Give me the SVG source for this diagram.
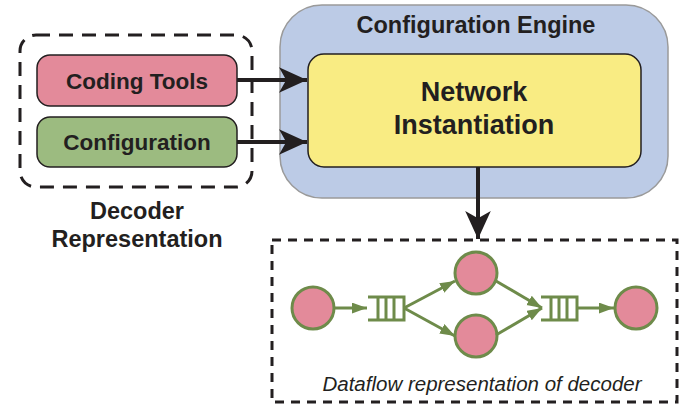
<svg xmlns="http://www.w3.org/2000/svg" width="695" height="405" viewBox="0 0 695 405">
<style>
.t{font-family:"Liberation Sans",Arial,sans-serif;font-weight:bold;fill:#231f20;text-anchor:middle}
.c{fill:#e38a9a;stroke:#6e8b4a;stroke-width:3}
.g{stroke:#6e8b4a;stroke-width:3;fill:none}
.k{stroke:#231f20;stroke-width:4;fill:none}
</style>
<defs>
<marker id="ab" markerWidth="8" markerHeight="8" refX="7" refY="4" orient="auto" markerUnits="strokeWidth"><path d="M0,0.8 L7,4 L0,7.2 L1.8,4 Z" fill="#231f20"/></marker>
<marker id="ag" markerWidth="5" markerHeight="4" refX="5" refY="1.8" orient="auto" markerUnits="strokeWidth"><path d="M0,0 L5,1.8 L0,3.6 Z" fill="#6e8b4a"/></marker>
</defs>
<g id="decoder-representation">
<rect x="20" y="35" width="232" height="152" rx="16" fill="none" stroke="#231f20" stroke-width="3" stroke-dasharray="14,9"/>
<text class="t" x="137" y="219" font-size="23.5">Decoder</text>
<text class="t" x="137" y="247" font-size="23.5">Representation</text>
</g>
<g id="coding-tools">
<rect x="37" y="55" width="200" height="51" rx="13" fill="#e38a9a" stroke="#231f20" stroke-width="1.5"/>
<text class="t" x="137" y="89" font-size="22.5">Coding Tools</text>
</g>
<g id="configuration">
<rect x="37" y="117" width="200" height="50" rx="13" fill="#9cbb80" stroke="#231f20" stroke-width="1.5"/>
<text class="t" x="137" y="150" font-size="22.5">Configuration</text>
</g>
<g id="configuration-engine">
<rect x="280" y="5" width="388" height="193" rx="42" fill="#bccbe6" stroke="#9a9a9a" stroke-width="1.5"/>
<text class="t" x="476" y="33" font-size="23.5">Configuration Engine</text>
</g>
<g id="network-instantiation">
<rect x="308" y="54" width="333" height="113" rx="16" fill="#f9ec83" stroke="#231f20" stroke-width="1.5"/>
<text class="t" x="474" y="101" font-size="27">Network</text>
<text class="t" x="474" y="134" font-size="27">Instantiation</text>
</g>
<g id="dataflow">
<rect x="272" y="240" width="405" height="162" fill="none" stroke="#231f20" stroke-width="3" stroke-dasharray="9,7"/>
<text x="482" y="391" font-family="'Liberation Sans',Arial,sans-serif" font-style="italic" font-size="20.5" fill="#231f20" text-anchor="middle">Dataflow representation of decoder</text>
</g>
<g id="actor-1"><circle class="c" cx="313" cy="308" r="21"/></g>
<g id="actor-2"><circle class="c" cx="476" cy="273" r="21"/></g>
<g id="actor-3"><circle class="c" cx="476" cy="336" r="21"/></g>
<g id="actor-4"><circle class="c" cx="636" cy="308" r="21"/></g>
<g id="fifo-1"><path class="g" d="M368,297 H404 V320 H368 M378,297 V320 M386,297 V320 M394,297 V320"/></g>
<g id="fifo-2"><path class="g" d="M541,297 H577 V320 H541 M551,297 V320 M559,297 V320 M567,297 V320"/></g>
<g id="connectors">
<line class="k" x1="237" y1="80" x2="307" y2="80" marker-end="url(#ab)"/>
<line class="k" x1="237" y1="142" x2="307" y2="142" marker-end="url(#ab)"/>
<line class="k" x1="478" y1="167" x2="478" y2="239" marker-end="url(#ab)"/>
<line class="g" x1="334" y1="308" x2="367" y2="308" marker-end="url(#ag)"/>
<line class="g" x1="404" y1="308" x2="455" y2="281" marker-end="url(#ag)"/>
<line class="g" x1="404" y1="308" x2="455" y2="336" marker-end="url(#ag)"/>
<line class="g" x1="496" y1="281" x2="542" y2="308" marker-end="url(#ag)"/>
<line class="g" x1="496" y1="335" x2="542" y2="308" marker-end="url(#ag)"/>
<line class="g" x1="577" y1="308" x2="614" y2="308" marker-end="url(#ag)"/>
</g>
</svg>
